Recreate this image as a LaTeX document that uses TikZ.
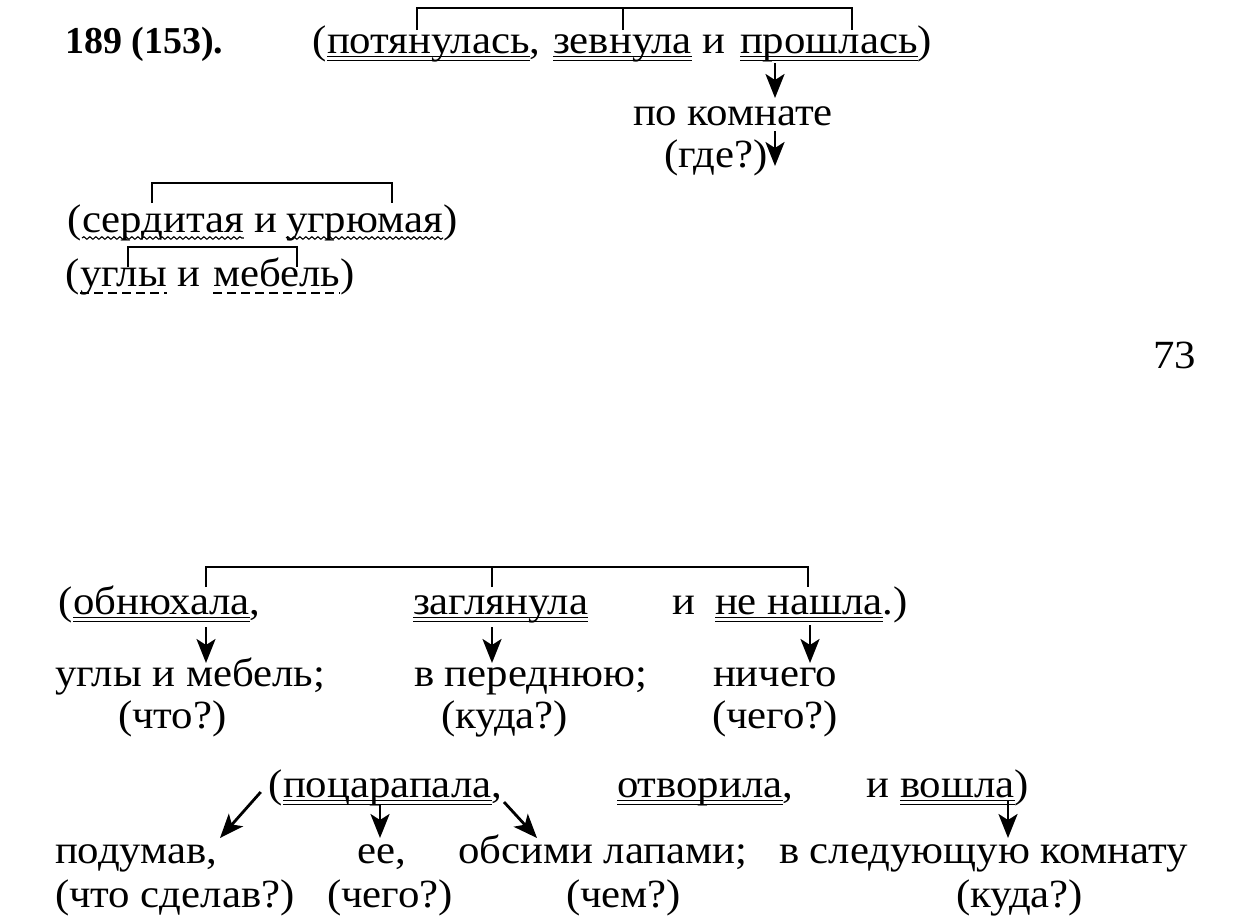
\documentclass[tikz,border=0pt]{standalone}
\usepackage{fontspec}
\setmainfont{Liberation Serif}[FakeStretch=1.07]
\newfontfamily\numfont{Liberation Serif}
\usetikzlibrary{arrows.meta,decorations.pathmorphing,calc}
\newcommand\fsz{\fontsize{40}{48}\selectfont}
\newcommand\dblul[1]{%
  \draw[ulline] ([yshift=-3.5pt]#1.base west) -- ([yshift=-3.5pt]#1.base east);
  \draw[ulline] ([yshift=-7.5pt]#1.base west) -- ([yshift=-7.5pt]#1.base east);}
\newcommand\wavyul[1]{%
  \draw[ulline,decorate,decoration={snake,amplitude=1.3pt,segment length=6pt}]
    ([yshift=-6pt]#1.base west) -- ([yshift=-6pt]#1.base east);}
\newcommand\dashul[1]{%
  \draw[ulline,dash pattern=on 9pt off 5pt] ([yshift=-7pt]#1.base west) -- ([yshift=-7pt]#1.base east);}
\begin{document}
\begin{tikzpicture}[x=1pt,y=-1pt,
  w/.style={inner sep=0pt, outer sep=0pt, anchor=base west, font=\fsz},
  pre/.style={inner sep=0pt, outer sep=0pt, anchor=base east, font=\fsz},
  brk/.style={line width=2.8pt},
  arr/.style={line width=2.8pt, -{Stealth[length=24pt,width=19pt,inset=6pt]}},
  ulline/.style={line width=1.1pt}]
\useasboundingbox[fill=white] (0,0) rectangle (1238,919);

% ---------- top part ----------
\node[w,font=\numfont\fontsize{38}{46}\selectfont\bfseries] (num) at (65,53) {189 (153).};

\node[w] (v1) at (327,53) {потянулась};
\node[pre] (lp1) at (v1.base west) {(};
\node[w] (c1) at (v1.base east) {,};
\node[w] (v2) at (553,53) {зевнула};
\node[w] (i1) at (v2.base east) {\ и};
\node[w] (v3) at (740,53) {прошлась};
\node[w] (rp1) at (v3.base east) {)};
\dblul{v1}\dblul{v2}\dblul{v3}
\draw[brk] ([shift={(90,-23)}]v1.base west) |- ([shift={(112,-45)}]v3.base west)
  -- ([shift={(112,-23)}]v3.base west);
\draw[brk] ([shift={(70,-23)}]v2.base west) -- ([shift={(70,-45)}]v2.base west);

\node[w] (d1) at (633,125) {по комнате};
\node[w] (d2) at (664,167) {(где?)};
\draw[arr] ([shift={(35,10)}]v3.base west) -- ([shift={(142,-27)}]d1.base west);
\draw[arr] ([shift={(142,6)}]d1.base west) -- ([shift={(111,-1)}]d2.base west);

\node[w] (a1) at (82,232) {сердитая};
\node[pre] (lp2) at (a1.base west) {(};
\node[w] (i2) at (a1.base east) {\ и};
\node[w] (a2) at (286,232) {угрюмая};
\node[w] (rp2) at (a2.base east) {)};
\wavyul{a1}\wavyul{a2}
\draw[brk] ([shift={(70,-29)}]a1.base west) |- ([shift={(106,-49)}]a2.base west)
  -- ([shift={(106,-29)}]a2.base west);

\node[w] (s1) at (80,286) {углы};
\node[pre] (lp3) at (s1.base west) {(};
\node[w] (i3) at (s1.base east) {\ и};
\node[w] (s2) at (213,286) {мебель};
\node[w] (rp3) at (s2.base east) {)};
\dashul{s1}\dashul{s2}
\draw[brk] ([shift={(48,-19)}]s1.base west) |- ([shift={(84,-39)}]s2.base west)
  -- ([shift={(84,-19)}]s2.base west);

\node[w] (pg) at (1153,368) {73};

% ---------- bottom part ----------
\node[w] (b1) at (73,614) {обнюхала};
\node[pre] (lp4) at (b1.base west) {(};
\node[w] (c4) at (b1.base east) {,};
\node[w] (b2) at (413,614) {заглянула};
\node[w] (i4) at (672,614) {и\ };
\node[w] (b3) at (715,614) {не нашла};
\node[w] (rp4) at (b3.base east) {.)};
\dblul{b1}\dblul{b2}\dblul{b3}
\draw[brk] ([shift={(133,-27)}]b1.base west) |- ([shift={(93,-47)}]b3.base west)
  -- ([shift={(93,-27)}]b3.base west);
\draw[brk] ([shift={(79,-27)}]b2.base west) -- ([shift={(79,-47)}]b2.base west);

\node[w] (e1) at (55,686) {углы и мебель;};
\node[w] (e2) at (414,686) {в переднюю;};
\node[w] (e3) at (713,686) {ничего};
\node[w] (q1) at (118,728) {(что?)};
\node[w] (q2) at (441,728) {(куда?)};
\node[w] (q3) at (712,728) {(чего?)};
\draw[arr] ([shift={(133,13)}]b1.base west) -- ([shift={(151,-23)}]e1.base west);
\draw[arr] ([shift={(79,13)}]b2.base west) -- ([shift={(78,-23)}]e2.base west);
\draw[arr] ([shift={(95,11)}]b3.base west) -- ([shift={(97,-23)}]e3.base west);

\node[w] (f1) at (283,797) {поцарапала};
\node[pre] (lp7) at (f1.base west) {(};
\node[w] (c7) at (f1.base east) {,};
\node[w] (f2) at (617,797) {отворила};
\node[w] (c8) at (f2.base east) {,};
\node[w] (i7) at (866,797) {и\ };
\node[w] (f3) at (900,797) {вошла};
\node[w] (rp7) at (f3.base east) {)};
\dblul{f1}\dblul{f2}\dblul{f3}

\node[w] (g1) at (55,863) {подумав,};
\node[w] (g2) at (357,863) {ее,};
\node[w] (g3) at (458,863) {обсими лапами;};
\node[w] (g4) at (779,863) {в следующую комнату};
\node[w] (h1) at (55,907) {(что сделав?)};
\node[w] (h2) at (327,907) {(чего?)};
\node[w] (h3) at (566,907) {(чем?)};
\node[w] (h4) at (956,907) {(куда?)};
\draw[arr] ([shift={(-8,-5)}]lp7.base west) -- ([shift={(165,-25)}]g1.base west);
\draw[arr] ([shift={(97,8)}]f1.base west) -- ([shift={(23,-25)}]g2.base west);
\draw[arr] ([shift={(221,5)}]f1.base west) -- ([shift={(79,-25)}]g3.base west);
\draw[arr] ([shift={(108,4)}]f3.base west) -- ([shift={(229,-25)}]g4.base west);
\end{tikzpicture}
\end{document}
